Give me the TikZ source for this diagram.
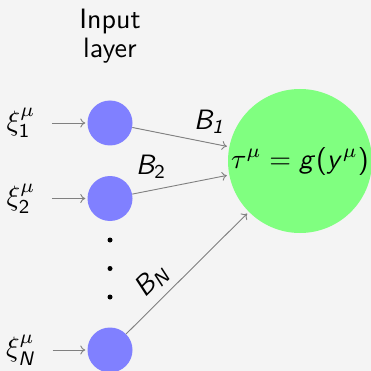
\documentclass[tikz,border=0pt]{standalone}
\usepackage{amsmath}
\usetikzlibrary{arrows.meta}
\renewcommand\familydefault{\sfdefault}
\DeclareSymbolFont{operators}{OT1}{cmss}{m}{n}
\DeclareSymbolFont{sansletters}{OT1}{cmss}{m}{sl}
\DeclareMathSymbol{B}{\mathalpha}{sansletters}{`B}
\DeclareMathSymbol{N}{\mathalpha}{sansletters}{`N}
\DeclareMathSymbol{g}{\mathalpha}{sansletters}{`g}
\DeclareMathSymbol{y}{\mathalpha}{sansletters}{`y}
\definecolor{bg}{HTML}{F4F4F4}
\definecolor{nblue}{HTML}{8080FF}
\definecolor{ngreen}{HTML}{80FF80}
\tikzset{
  big/.style={font=\fontsize{10}{10.7}\selectfont, scale=2.8},
  neuron/.style={circle, fill=nblue, minimum size=45pt, inner sep=0pt},
  outneuron/.style={circle, fill=ngreen, minimum size=51.43pt, inner sep=0pt, big},
  dotnode/.style={circle, fill=black, minimum size=5pt, inner sep=0pt},
  inlabel/.style={big, inner sep=0pt},
  conn/.style={draw=gray, line width=0.9pt, -{To[length=5pt,width=9pt]}},
}
\begin{document}
\begin{tikzpicture}[x=1pt,y=-1pt]
  \fill[bg] (0,0) rectangle (371,371);
  \useasboundingbox (0,0) rectangle (371,371);
  \node[big, align=center, anchor=base] (title) at (110,58) {Input\\layer};
  \node[neuron] (in1) at (110,123) {};
  \node[neuron] (in2) at (110,198.5) {};
  \node[neuron] (inN) at (110,350) {};
  \node[dotnode] (d1) at (110,240) {};
  \node[dotnode] (d2) at (110,268.5) {};
  \node[dotnode] (d3) at (110,297) {};
  \node[outneuron] (out) at (300,161) {$\tau^{\mu} = g(y^{\mu})$};
  \node[inlabel] (x1) at (21,123) {$\xi^{\mu}_{1}$};
  \node[inlabel] (x2) at (21,198.5) {$\xi^{\mu}_{2}$};
  \node[inlabel] (xN) at (21,350) {$\xi^{\mu}_{N}$};
  \draw[conn, shorten <=16pt, shorten >=2pt] (x1) -- (in1);
  \draw[conn, shorten <=16pt, shorten >=2pt] (x2) -- (in2);
  \draw[conn, shorten <=16pt, shorten >=2pt] (xN) -- (inN);
  \draw[conn, shorten >=2pt] (in1) -- (out);
  \draw[conn, shorten >=2pt] (in2) -- (out);
  \draw[conn, shorten >=2pt] (inN) -- (out);
  \node[big] (b1) at (209,122) {$B_{\text{\slshape 1}}$};
  \node[big] (b2) at (151,167) {$B_2$};
  \node[big, rotate=45] (bN) at (152,280) {$B_N$};
\end{tikzpicture}
\end{document}
